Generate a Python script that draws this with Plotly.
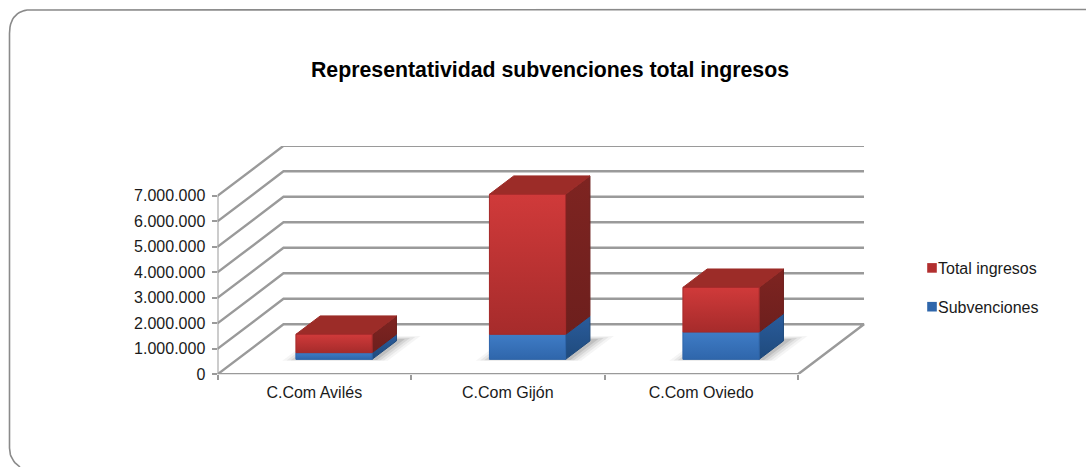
import plotly.graph_objects as go

categories = ["C.Com Avilés", "C.Com Gijón", "C.Com Oviedo"]
subvenciones = [260000, 980000, 1070000]
total_ingresos = [720000, 5490000, 1750000]
y_ticks = [0, 1000000, 2000000, 3000000, 4000000, 5000000, 6000000, 7000000]
y_labels = ["0", "1.000.000", "2.000.000", "3.000.000", "4.000.000", "5.000.000", "6.000.000", "7.000.000"]
title = "Representatividad subvenciones total ingresos"

W, H = 1086, 467
X0, X1 = 217.5, 865.0
Y0, Y1 = 374.3, 146.0
PX_CAT = 193.5
PX_VAL = 25.5 / 1e6
DX = 66 / PX_CAT
DY = 50 / PX_VAL
BAR_W = 0.394
D0, D1 = 0.30, 0.668
GRID = "#9a9a9a"
FONT = "Liberation Sans"


def pt(x, v, d):
    return x + d * DX, v + d * DY


def poly(points, c0, c1=None, line=True, name=None):
    xs, ys = zip(*(points + points[:1]))
    kw = {}
    if c1:
        kw["fillgradient"] = dict(type="vertical", colorscale=[[0, c1], [1, c0]])
    else:
        kw["fillcolor"] = c0
    return go.Scatter(x=xs, y=ys, mode="lines", fill="toself", showlegend=False, hoverinfo="skip",
                      line=dict(width=1 if line else 0, color=c1 or c0, shape="linear"), **kw)


fig = go.Figure()
centers = [i + 0.5 for i in range(len(categories))]
base_off = D0 * DY
x_off = D0 * DX

# legend-bearing data bars
fig.add_bar(name="Total ingresos", x=[c + x_off for c in centers], y=total_ingresos,
            base=[base_off + s for s in subvenciones], width=BAR_W,
            marker=dict(color="#b22f2f", line_width=0), legendgroup="b", hoverinfo="skip")
fig.add_bar(name="Subvenciones", x=[c + x_off for c in centers], y=subvenciones, base=[base_off] * 3,
            width=BAR_W, marker=dict(color="#2f66ab", line_width=0), legendgroup="a", hoverinfo="skip")

# walls and floor grid
for i, v in enumerate(y_ticks):
    pts = [pt(0, v, 0), pt(0, v, 1), pt(3, v, 1)]
    if v == 0:
        pts = [pt(3, 0, 0), pt(3, 0, 1), pt(0, 0, 1), pt(0, 0, 0), pt(3, 0, 0)]
    xs, ys = zip(*pts)
    fig.add_scatter(x=xs, y=ys, mode="lines", showlegend=False, hoverinfo="skip", cliponaxis=False,
                    line=dict(color=GRID, width=2.4))
fig.add_scatter(x=[0, 0], y=[0, y_ticks[-1]], mode="lines", showlegend=False, hoverinfo="skip", cliponaxis=False,
                line=dict(color=GRID, width=2))

# floor shadows
for c in centers:
    for grow, alpha in [(0.06, 0.05), (0.04, 0.07), (0.02, 0.10), (0.0, 0.14)]:
        xa, xb = c - BAR_W / 2 - grow, c + BAR_W / 2 + grow + 0.03
        da, db = D0 - 0.015 - grow / 4, D1 + 0.04 + grow
        fig.add_trace(poly([pt(xa, 0, da), pt(xb, 0, da), pt(xb, 0, db), pt(xa, 0, db)],
                           f"rgba(60,60,60,{alpha})", line=False))

# box faces
for c, s, t in zip(centers, subvenciones, total_ingresos):
    a, b = c - BAR_W / 2, c + BAR_W / 2
    tot = s + t
    fig.add_trace(poly([pt(b, 0, D0), pt(b, 0, D1), pt(b, s, D1), pt(b, s, D0)], "#2a5c9c", "#1f4a7c"))
    fig.add_trace(poly([pt(b, s, D0), pt(b, s, D1), pt(b, tot, D1), pt(b, tot, D0)], "#7e2421", "#6d1f1d"))
    fig.add_trace(poly([pt(a, tot, D0), pt(b, tot, D0), pt(b, tot, D1), pt(a, tot, D1)], "#9c2c28"))
    fig.add_trace(poly([pt(a, 0, D0), pt(b, 0, D0), pt(b, s, D0), pt(a, s, D0)], "#3f7cc6", "#2f66ab"))
    fig.add_trace(poly([pt(a, s, D0), pt(b, s, D0), pt(b, tot, D0), pt(a, tot, D0)], "#d03a3a", "#a62b2b"))


# outer rounded frame on a hidden page-sized pixel axis
def quad(p0, c, p1, n=14):
    return [((1 - t) ** 2 * p0[0] + 2 * t * (1 - t) * c[0] + t ** 2 * p1[0],
             (1 - t) ** 2 * p0[1] + 2 * t * (1 - t) * c[1] + t ** 2 * p1[1]) for t in [i / n for i in range(n + 1)]]


L, T, r = 9.5, 9.5, 24
frame = [(W, T)] + quad((L + r, T), (L, T), (L, T + r)) + quad((L, 448), (L, 460), (20, H))
fig.add_scatter(x=[p[0] for p in frame], y=[p[1] for p in frame], xaxis="x2", yaxis="y2", mode="lines",
                showlegend=False, hoverinfo="skip", line=dict(color="#8a8a8a", width=1.6))

fig.update_layout(
    width=W, height=H, autosize=False, margin=dict(l=0, r=0, t=0, b=0, autoexpand=False),
    paper_bgcolor="white", plot_bgcolor="rgba(0,0,0,0)",
    font=dict(family=FONT, size=16, color="#1a1a1a"), barmode="overlay",
    title=dict(text=title, x=550 / W, xanchor="center", y=1 - 70 / H, yanchor="middle",
               font=dict(family=FONT, size=21.3, weight=700, color="black")),
    legend=dict(x=898 / W, xanchor="left", y=1 - 251 / H, yanchor="top", traceorder="grouped",
                tracegroupgap=15, bgcolor="rgba(0,0,0,0)", font=dict(size=16)),
    xaxis=dict(domain=[X0 / W, X1 / W], range=[0, (X1 - X0) / PX_CAT], showgrid=False, zeroline=False,
               showline=False, tickmode="array", tickvals=centers, ticktext=categories, ticks="",
               ticklen=0, ticklabelstandoff=7,
               minor=dict(tickmode="array", tickvals=[0, 1, 2, 3], ticks="outside", ticklen=5,
                          tickcolor=GRID, tickwidth=2, showgrid=False)),
    yaxis=dict(domain=[1 - Y0 / H, 1 - Y1 / H], range=[0, (Y0 - Y1) / PX_VAL], showgrid=False, zeroline=False,
               showline=False, tickmode="array", tickvals=y_ticks, ticktext=y_labels, ticks="outside",
               ticklen=5, tickcolor=GRID, tickwidth=2, ticklabelstandoff=3),
    xaxis2=dict(domain=[0, 1], range=[0, W], visible=False, anchor="y2"),
    yaxis2=dict(domain=[0, 1], range=[H, 0], visible=False, anchor="x2"),
)
post = """
document.body.style.margin='0';
var fixLegend=function(){document.querySelectorAll('.legend .legendpoints path').forEach(function(e){
  e.setAttribute('transform','translate(34,0) scale(0.8)');});};
fixLegend();
var gd=document.querySelector('.plotly-graph-div');
gd.on('plotly_afterplot',fixLegend);
setTimeout(fixLegend,50);
"""
fig.write_html("out.html", post_script=post, config=dict(displayModeBar=False))
